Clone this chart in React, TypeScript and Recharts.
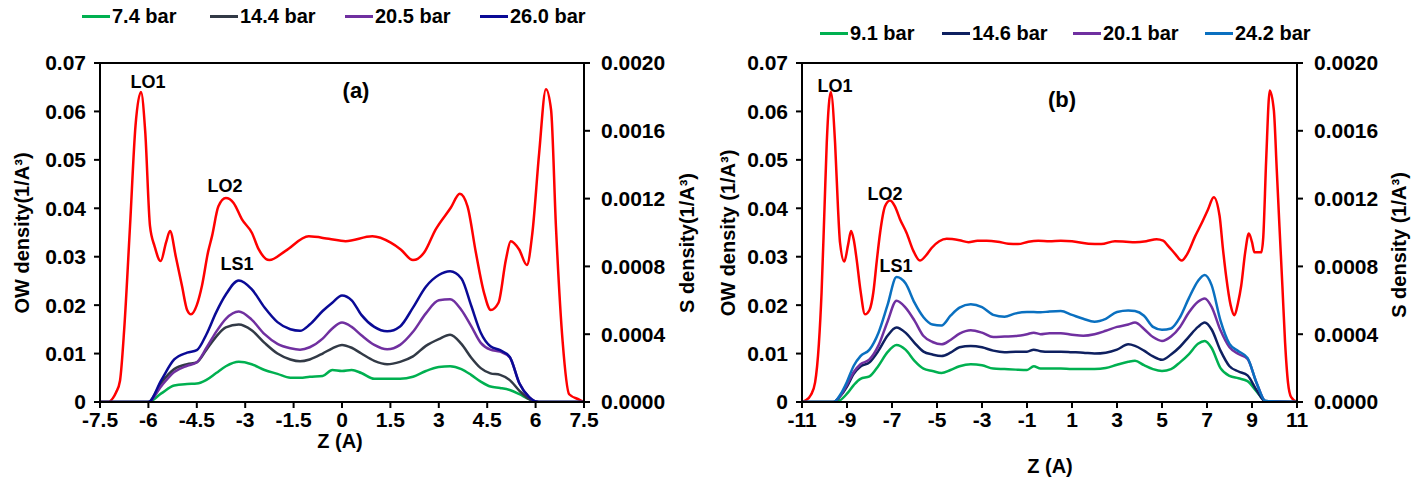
import React from "react";
import { LineChart, Line, XAxis, YAxis, ReferenceLine } from "recharts";

const FONT = '"Liberation Sans", Arial, sans-serif';

// ---------- Panel (a) ----------
const xTicksA = [-7.5, -6, -4.5, -3, -1.5, 0, 1.5, 3, 4.5, 6, 7.5];
const owZA = [-7.5, -7.25, -7.1, -7.0, -6.88, -6.75, -6.57, -6.4, -6.23, -6.1, -5.95, -5.81, -5.62, -5.45, -5.33, -5.15, -4.96, -4.8, -4.68, -4.5, -4.34, -4.15, -4.03, -3.83, -3.6, -3.36, -3.1, -2.79, -2.58, -2.25, -1.75, -1.03, -0.41, 0.11, 0.94, 1.51, 1.82, 2.2, 2.54, 2.9, 3.37, 3.65, 3.89, 4.15, 4.4, 4.61, 4.85, 5.08, 5.23, 5.49, 5.73, 5.9, 6.11, 6.32, 6.48, 6.63, 6.84, 7.04, 7.35, 7.5];
const owA = [0, 0, 0.0008, 0.002, 0.0044, 0.015, 0.0363, 0.057, 0.064, 0.056, 0.0363, 0.0322, 0.0291, 0.033, 0.0353, 0.03, 0.024, 0.019, 0.0181, 0.02, 0.024, 0.031, 0.0342, 0.0404, 0.0421, 0.0411, 0.0377, 0.0349, 0.0315, 0.0293, 0.0312, 0.0342, 0.0337, 0.0332, 0.0342, 0.0329, 0.0315, 0.0293, 0.0308, 0.0356, 0.0401, 0.043, 0.0404, 0.0308, 0.0226, 0.019, 0.0205, 0.0294, 0.0332, 0.0315, 0.0283, 0.0349, 0.0514, 0.0646, 0.0603, 0.0363, 0.0123, 0.0016, 0.0005, 0];

const sZA = [-7.5, -6.0, -5.6, -5.2, -4.8, -4.5, -4.2, -3.9, -3.6, -3.2, -2.8, -2.4, -2.0, -1.6, -1.3, -1.0, -0.6, -0.3, 0, 0.3, 0.6, 1.0, 1.4, 1.8, 2.2, 2.6, 3.0, 3.35, 3.7, 4.0, 4.3, 4.6, 4.9, 5.2, 5.5, 5.8, 6.1, 7.5];
const s74 = [0, 0, 0.51e-4, 0.97e-4, 1.06e-4, 1.09e-4, 1.31e-4, 1.71e-4, 2.11e-4, 2.37e-4, 2.23e-4, 1.89e-4, 1.66e-4, 1.43e-4, 1.43e-4, 1.49e-4, 1.54e-4, 1.89e-4, 1.83e-4, 1.89e-4, 1.71e-4, 1.37e-4, 1.37e-4, 1.37e-4, 1.49e-4, 1.83e-4, 2.06e-4, 2.11e-4, 1.94e-4, 1.6e-4, 1.2e-4, 0.91e-4, 0.83e-4, 0.71e-4, 0.46e-4, 0.17e-4, 0, 0];
const s144 = [0, 0, 1.14e-4, 1.94e-4, 2.23e-4, 2.34e-4, 3.09e-4, 3.86e-4, 4.4e-4, 4.57e-4, 4.23e-4, 3.49e-4, 2.86e-4, 2.51e-4, 2.4e-4, 2.51e-4, 2.86e-4, 3.17e-4, 3.37e-4, 3.2e-4, 2.86e-4, 2.43e-4, 2.23e-4, 2.37e-4, 2.69e-4, 3.31e-4, 3.71e-4, 3.97e-4, 3.43e-4, 2.63e-4, 2.0e-4, 1.69e-4, 1.6e-4, 1.29e-4, 0.66e-4, 0.17e-4, 0, 0];
const s205 = [0, 0, 0.94e-4, 1.77e-4, 2.14e-4, 2.34e-4, 3.2e-4, 4.14e-4, 4.91e-4, 5.34e-4, 4.86e-4, 4.0e-4, 3.43e-4, 3.17e-4, 3.09e-4, 3.23e-4, 3.74e-4, 4.34e-4, 4.69e-4, 4.43e-4, 3.94e-4, 3.37e-4, 3.11e-4, 3.37e-4, 4.14e-4, 5.23e-4, 6.0e-4, 6.06e-4, 5.43e-4, 4.49e-4, 3.49e-4, 3.09e-4, 2.97e-4, 2.63e-4, 1.09e-4, 0.29e-4, 0, 0];
const s260 = [0, 0, 1.29e-4, 2.51e-4, 2.91e-4, 3.06e-4, 4.0e-4, 5.29e-4, 6.34e-4, 7.17e-4, 6.66e-4, 5.57e-4, 4.71e-4, 4.29e-4, 4.2e-4, 4.57e-4, 5.37e-4, 5.86e-4, 6.29e-4, 6.0e-4, 5.14e-4, 4.43e-4, 4.17e-4, 4.46e-4, 5.57e-4, 6.8e-4, 7.49e-4, 7.71e-4, 7.29e-4, 5.71e-4, 4.09e-4, 3.29e-4, 3.06e-4, 2.66e-4, 1.09e-4, 0.29e-4, 0, 0];

// ---------- Panel (b) ----------
const xTicksB = [-11, -9, -7, -5, -3, -1, 1, 3, 5, 7, 9, 11];
const owZB = [-11, -10.85, -10.6, -10.42, -10.25, -10.13, -10.0, -9.9, -9.72, -9.53, -9.4, -9.31, -9.12, -8.95, -8.82, -8.7, -8.57, -8.4, -8.2, -8.0, -7.83, -7.68, -7.53, -7.31, -7.09, -6.87, -6.64, -6.35, -6.05, -5.76, -5.5, -5.24, -4.9, -4.57, -4.0, -3.6, -3.2, -2.79, -2.3, -1.83, -1.4, -0.94, -0.5, 0, 0.5, 1.0, 1.73, 2.3, 2.91, 3.4, 3.8, 4.3, 4.76, 5.05, 5.28, 5.6, 5.87, 6.15, 6.47, 6.75, 7.04, 7.3, 7.56, 7.7, 7.85, 8.05, 8.22, 8.38, 8.52, 8.7, 8.86, 9.0, 9.11, 9.41, 9.5, 9.63, 9.79, 9.97, 10.1, 10.22, 10.35, 10.47, 10.6, 10.74, 11];
const owB = [0, 0.0003, 0.0015, 0.004, 0.012, 0.0226, 0.04, 0.0535, 0.064, 0.0535, 0.04, 0.0329, 0.029, 0.0325, 0.0353, 0.0335, 0.0294, 0.023, 0.0181, 0.019, 0.0226, 0.029, 0.0349, 0.0404, 0.0416, 0.0404, 0.0377, 0.0349, 0.0312, 0.0292, 0.0302, 0.0318, 0.0332, 0.0337, 0.0334, 0.033, 0.0333, 0.0333, 0.0331, 0.0327, 0.0326, 0.0331, 0.0333, 0.0332, 0.0333, 0.0332, 0.0327, 0.0326, 0.0332, 0.0331, 0.033, 0.0332, 0.0336, 0.0333, 0.0322, 0.0305, 0.0292, 0.0308, 0.0342, 0.0368, 0.0397, 0.0423, 0.0384, 0.032, 0.026, 0.02, 0.0179, 0.0205, 0.024, 0.031, 0.0348, 0.033, 0.0309, 0.0309, 0.034, 0.05, 0.0643, 0.0603, 0.048, 0.0363, 0.024, 0.0123, 0.004, 0.001, 0];

const sZB = [-11, -9.6, -9.3, -9.0, -8.7, -8.4, -8.0, -7.6, -7.2, -6.8, -6.4, -6.0, -5.6, -5.2, -4.8, -4.4, -4.0, -3.5, -3.0, -2.5, -2.0, -1.5, -1.0, -0.7, -0.4, 0, 0.5, 1.0, 1.5, 2.0, 2.5, 3.0, 3.5, 3.8, 4.2, 4.6, 5.0, 5.4, 5.8, 6.2, 6.6, 6.9, 7.2, 7.6, 8.0, 8.4, 8.8, 9.2, 9.6, 11];
const s91 = [0, 0, 0.11e-4, 0.49e-4, 1.0e-4, 1.37e-4, 1.51e-4, 2.14e-4, 2.94e-4, 3.37e-4, 3.09e-4, 2.43e-4, 1.97e-4, 1.83e-4, 1.71e-4, 1.89e-4, 2.11e-4, 2.23e-4, 2.17e-4, 1.97e-4, 1.94e-4, 1.91e-4, 1.89e-4, 2.11e-4, 1.97e-4, 1.97e-4, 1.97e-4, 1.94e-4, 1.94e-4, 1.94e-4, 2.0e-4, 2.2e-4, 2.37e-4, 2.43e-4, 2.17e-4, 1.94e-4, 1.83e-4, 1.94e-4, 2.34e-4, 2.83e-4, 3.43e-4, 3.6e-4, 3.2e-4, 2.0e-4, 1.54e-4, 1.4e-4, 1.23e-4, 0.63e-4, 0.06e-4, 0];
const s146 = [0, 0, 0.34e-4, 0.91e-4, 1.66e-4, 2.09e-4, 2.34e-4, 3.03e-4, 3.91e-4, 4.4e-4, 4.09e-4, 3.49e-4, 2.97e-4, 2.8e-4, 2.71e-4, 2.91e-4, 3.23e-4, 3.31e-4, 3.23e-4, 3.03e-4, 2.94e-4, 2.97e-4, 2.97e-4, 3.09e-4, 3.0e-4, 2.97e-4, 2.97e-4, 2.94e-4, 2.91e-4, 2.86e-4, 2.91e-4, 3.09e-4, 3.4e-4, 3.31e-4, 3.03e-4, 2.69e-4, 2.49e-4, 2.8e-4, 3.26e-4, 3.86e-4, 4.43e-4, 4.69e-4, 4.29e-4, 3.03e-4, 2.11e-4, 1.8e-4, 1.57e-4, 0.71e-4, 0.03e-4, 0];
const s201 = [0, 0, 0.37e-4, 1.03e-4, 1.77e-4, 2.23e-4, 2.51e-4, 3.34e-4, 4.74e-4, 5.97e-4, 5.57e-4, 4.8e-4, 3.89e-4, 3.54e-4, 3.4e-4, 3.66e-4, 4.03e-4, 4.23e-4, 4.09e-4, 3.83e-4, 3.86e-4, 3.89e-4, 4.0e-4, 4.09e-4, 4.0e-4, 4.06e-4, 4.06e-4, 3.97e-4, 3.91e-4, 4.0e-4, 4.2e-4, 4.43e-4, 4.57e-4, 4.69e-4, 4.31e-4, 3.83e-4, 3.6e-4, 3.86e-4, 4.43e-4, 5.29e-4, 5.91e-4, 6.11e-4, 5.63e-4, 4.23e-4, 3.23e-4, 2.83e-4, 2.54e-4, 1.14e-4, 0.06e-4, 0];
const s242 = [0, 0, 0.43e-4, 1.2e-4, 2.14e-4, 2.71e-4, 3.09e-4, 4.09e-4, 5.71e-4, 7.37e-4, 7.0e-4, 5.86e-4, 5.0e-4, 4.57e-4, 4.51e-4, 5.09e-4, 5.57e-4, 5.77e-4, 5.6e-4, 5.14e-4, 5.03e-4, 5.23e-4, 5.31e-4, 5.31e-4, 5.29e-4, 5.34e-4, 5.37e-4, 5.14e-4, 4.91e-4, 4.74e-4, 4.91e-4, 5.31e-4, 5.4e-4, 5.37e-4, 5.09e-4, 4.43e-4, 4.26e-4, 4.34e-4, 5.0e-4, 6.14e-4, 7.14e-4, 7.49e-4, 6.91e-4, 4.8e-4, 3.43e-4, 3.0e-4, 2.6e-4, 1.14e-4, 0.06e-4, 0];

const owTicks = [0, 0.01, 0.02, 0.03, 0.04, 0.05, 0.06, 0.07];
const sTicks = [0, 0.0004, 0.0008, 0.0012, 0.0016, 0.002];

const seriesA = [
  { name: "7.4 bar", values: s74, color: "#00B050" },
  { name: "14.4 bar", values: s144, color: "#323A46" },
  { name: "20.5 bar", values: s205, color: "#7030A0" },
  { name: "26.0 bar", values: s260, color: "#0A0A96" },
];
const seriesB = [
  { name: "9.1 bar", values: s91, color: "#00B050" },
  { name: "14.6 bar", values: s146, color: "#0E2060" },
  { name: "20.1 bar", values: s201, color: "#7030A0" },
  { name: "24.2 bar", values: s242, color: "#0A70C0" },
];

const tickStyle = { fill: "#000", fontSize: 21, fontWeight: 700, fontFamily: FONT };
const axisLine = { stroke: "#000", strokeWidth: 2 };

type Ser = { name: string; values: number[]; color: string };

function Panel(props: {
  left: number; width: number; yLeftW: number; yRightW: number;
  xTicks: number[]; xDomain: [number, number];
  owZ: number[]; ow: number[]; sZ: number[]; series: Ser[];
}) {
  const owData = props.owZ.map((z, i) => ({ z, v: props.ow[i] }));
  const sData = props.sZ.map((z, i) => {
    const row: Record<string, number> = { z };
    props.series.forEach((s, k) => { row["s" + k] = s.values[i]; });
    return row;
  });
  return (
    <div style={{ position: "absolute", left: props.left, top: 0 }}>
      <LineChart width={props.width} height={479} margin={{ top: 63, right: 0, bottom: 47, left: 0 }}>
        <XAxis type="number" dataKey="z" domain={props.xDomain} ticks={props.xTicks} allowDataOverflow
          axisLine={axisLine} tickLine={{ stroke: "#000", strokeWidth: 2 }} tickSize={6} tickMargin={4}
          tick={tickStyle} height={30} interval={0} />
        <YAxis yAxisId="L" orientation="left" domain={[0, 0.07]} ticks={owTicks} width={props.yLeftW}
          axisLine={axisLine} tickLine={{ stroke: "#000", strokeWidth: 2 }} tickSize={6} tickMargin={8}
          tick={tickStyle} interval={0} allowDataOverflow
          tickFormatter={(v: number) => (v === 0 ? "0" : v.toFixed(2))} />
        <YAxis yAxisId="R" orientation="right" domain={[0, 0.002]} ticks={sTicks} width={props.yRightW}
          axisLine={axisLine} tickLine={{ stroke: "#000", strokeWidth: 2 }} tickSize={6} tickMargin={11}
          tick={{ ...tickStyle, textAnchor: "start" }} interval={0} allowDataOverflow
          tickFormatter={(v: number) => v.toFixed(4)} />
        <ReferenceLine yAxisId="L" y={0.07} stroke="#000" strokeWidth={2} ifOverflow="extendDomain" />
        <Line yAxisId="L" data={owData} dataKey="v" type="monotone" stroke="#FF0000" strokeWidth={2.5}
          dot={false} isAnimationActive={false} legendType="none" />
        {props.series.map((s, k) => (
          <Line key={s.name} yAxisId="R" data={sData} dataKey={"s" + k} name={s.name} type="monotone"
            stroke={s.color} strokeWidth={2.5} dot={false} isAnimationActive={false} />
        ))}
      </LineChart>
    </div>
  );
}

const textBase: React.CSSProperties = {
  position: "absolute", fontFamily: FONT, fontWeight: 700, color: "#000", whiteSpace: "nowrap",
  transform: "translate(-50%, -50%)", lineHeight: 1,
};

function T(p: { x: number; y: number; size: number; rot?: boolean; children: React.ReactNode }) {
  return (
    <div style={{ ...textBase, left: p.x, top: p.y, fontSize: p.size,
      transform: p.rot ? "translate(-50%, -50%) rotate(-90deg)" : "translate(-50%, -50%)" }}>
      {p.children}
    </div>
  );
}

function LegendRow(p: { items: Ser[]; xs: number[]; y: number }) {
  return (
    <>
      {p.items.map((s, i) => (
        <div key={s.name} style={{ position: "absolute", left: p.xs[i], top: p.y - 11, height: 22,
          display: "flex", alignItems: "center", fontFamily: FONT, fontWeight: 700, fontSize: 20,
          whiteSpace: "nowrap" }}>
          <span style={{ display: "inline-block", width: 28, height: 3, background: s.color, marginRight: 2 }} />
          <span>{s.name}</span>
        </div>
      ))}
    </>
  );
}

export default function App() {
  return (
    <div style={{ position: "absolute", left: 0, top: 0, width: 1412, height: 479, background: "#fff", overflow: "hidden" }}>
      <Panel left={0} width={700} yLeftW={100} yRightW={116} xTicks={xTicksA} xDomain={[-7.5, 7.5]}
        owZ={owZA} ow={owA} sZ={sZA} series={seriesA} />
      <Panel left={700} width={712} yLeftW={102} yRightW={115} xTicks={xTicksB} xDomain={[-11, 11]}
        owZ={owZB} ow={owB} sZ={sZB} series={seriesB} />

      <LegendRow items={seriesA} xs={[82, 210, 345, 480]} y={16} />
      <LegendRow items={seriesB} xs={[820, 942, 1073, 1205]} y={33} />

      <T x={22} y={233} size={20} rot>OW density(1/A³)</T>
      <T x={687} y={243} size={20} rot>S density(1/A³)</T>
      <T x={340} y={441} size={20}>Z (A)</T>
      <T x={356} y={91} size={22}>(a)</T>
      <T x={148} y={82} size={18}>LO1</T>
      <T x={225} y={186} size={18}>LO2</T>
      <T x={237} y={264} size={18}>LS1</T>

      <T x={728} y={233} size={20} rot>OW density (1/A³)</T>
      <T x={1399} y={245} size={20} rot>S density (1/A³)</T>
      <T x={1050} y={466} size={20}>Z (A)</T>
      <T x={1062} y={100} size={22}>(b)</T>
      <T x={835} y={86} size={18}>LO1</T>
      <T x={885} y={194} size={18}>LO2</T>
      <T x={896} y={266} size={18}>LS1</T>
    </div>
  );
}
